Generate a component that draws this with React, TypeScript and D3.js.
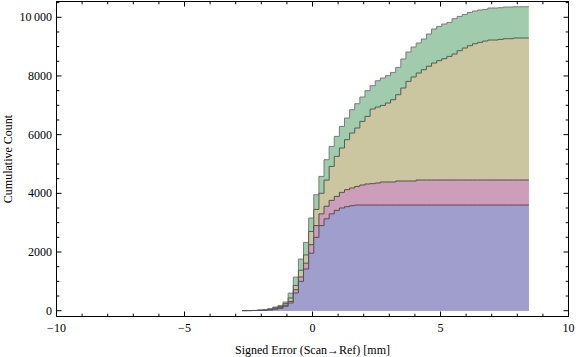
import React from "react";
import * as d3 from "d3";

// Bins of the cumulative histogram (signed error, mm)
const binStart = -2.75;
const binWidth = 0.2;

// Cumulative counts per series at each bin
const seriesGreen = [5,6,9,24,30,68,126,180,295,600,1145,1760,2328,3159,3953,4577,5146,5600,5940,6281,6567,6850,7055,7283,7498,7668,7838,7930,8009,8121,8292,8578,8816,8987,9123,9259,9430,9600,9689,9770,9825,9951,10030,10098,10166,10214,10248,10268,10316,10316,10327,10350,10350,10360,10360,10360];
const seriesKhaki = [4,5,7,14,20,50,100,140,240,433,860,1380,1900,2700,3450,4000,4450,4918,5259,5545,5828,6056,6226,6452,6622,6874,6942,6997,7078,7191,7361,7590,7815,7965,8101,8213,8330,8440,8520,8588,8667,8748,8861,8952,9031,9099,9144,9191,9225,9225,9246,9270,9270,9294,9294,9294];
const seriesPink = [3,4,6,10,15,32,65,100,185,317,716,1150,1620,2250,2900,3300,3560,3760,3895,4032,4124,4182,4236,4284,4318,4330,4352,4386,4386,4386,4420,4420,4420,4420,4454,4454,4454,4454,4454,4454,4454,4454,4454,4454,4454,4454,4454,4454,4454,4454,4454,4454,4454,4454,4454,4454];
const seriesBlue = [2,3,5,8,12,25,50,80,150,262,603,1000,1420,1960,2500,2900,3130,3300,3420,3500,3545,3578,3602,3602,3602,3602,3602,3602,3602,3602,3602,3602,3602,3602,3602,3602,3602,3602,3602,3602,3602,3602,3602,3602,3602,3602,3602,3602,3602,3602,3602,3602,3602,3602,3602,3602];

const xMajorTicks = [-10, -5, 0, 5, 10];
const xTickLabels = ["\u221210", "\u22125", "0", "5", "10"];
const yMajorTicks = [0, 2000, 4000, 6000, 8000, 10000];
const yTickLabels = ["0", "2000", "4000", "6000", "8000", "10\u2009000"];

const series = [
  { name: "green", values: seriesGreen, fill: "#a0cbac", stroke: "#747e76" },
  { name: "khaki", values: seriesKhaki, fill: "#cbc5a0", stroke: "#5c5a4c" },
  { name: "pink", values: seriesPink, fill: "#cd9eb9", stroke: "#5a4c56" },
  { name: "blue", values: seriesBlue, fill: "#a09ecd", stroke: "#4f4e62" },
];

const W = 576;
const H = 357;
const frame = { left: 56.5, right: 568.5, top: 1.5, bottom: 316.5 };
const font = "'Liberation Serif', 'Times New Roman', serif";

export default function App() {
  const x = d3.scaleLinear().domain([-10, 10]).range([frame.left, frame.right]);
  const y = d3.scaleLinear().domain([-198, 10538]).range([frame.bottom, frame.top]);

  const xMinor = d3.range(-10, 10.001, 1).filter((v) => !xMajorTicks.includes(v));
  const yMinor = d3.range(0, 10501, 500).filter((v) => !yMajorTicks.includes(v));

  const makePts = (vals: number[]) => {
    const pts: [number, number][] = vals.map((v, i) => [binStart + i * binWidth, v]);
    pts.push([binStart + vals.length * binWidth, vals[vals.length - 1]]);
    return pts;
  };
  const area = d3
    .area<[number, number]>()
    .x((d) => x(d[0]))
    .y0(y(0))
    .y1((d) => y(d[1]))
    .curve(d3.curveStepAfter);
  const line = d3
    .line<[number, number]>()
    .x((d) => x(d[0]))
    .y((d) => y(d[1]))
    .curve(d3.curveStepAfter);

  const majLen = 5;
  const minLen = 2.8;

  return (
    <div style={{ position: "absolute", left: 0, top: 0 }}>
      <svg width={W} height={H} style={{ display: "block", background: "#fff" }}>
        <g>
          {series.map((s) => {
            const pts = makePts(s.values);
            return (
              <g key={s.name}>
                <path d={area(pts) || ""} fill={s.fill} stroke="none" />
                <path d={line(pts) || ""} fill="none" stroke={s.stroke} strokeWidth={1} />
              </g>
            );
          })}
        </g>
        {/* frame */}
        <rect
          x={frame.left}
          y={frame.top}
          width={frame.right - frame.left}
          height={frame.bottom - frame.top}
          fill="none"
          stroke="#000"
          strokeWidth={1}
        />
        {/* x ticks */}
        {xMajorTicks.map((v) => (
          <g key={"xM" + v}>
            <line x1={x(v)} x2={x(v)} y1={frame.bottom} y2={frame.bottom - majLen} stroke="#000" />
            <line x1={x(v)} x2={x(v)} y1={frame.top} y2={frame.top + majLen} stroke="#000" />
          </g>
        ))}
        {xMinor.map((v) => (
          <g key={"xm" + v}>
            <line x1={x(v)} x2={x(v)} y1={frame.bottom} y2={frame.bottom - minLen} stroke="#000" />
            <line x1={x(v)} x2={x(v)} y1={frame.top} y2={frame.top + minLen} stroke="#000" />
          </g>
        ))}
        {/* y ticks */}
        {yMajorTicks.map((v) => (
          <g key={"yM" + v}>
            <line x1={frame.left} x2={frame.left + majLen} y1={y(v)} y2={y(v)} stroke="#000" />
            <line x1={frame.right} x2={frame.right - majLen} y1={y(v)} y2={y(v)} stroke="#000" />
          </g>
        ))}
        {yMinor.map((v) => (
          <g key={"ym" + v}>
            <line x1={frame.left} x2={frame.left + minLen} y1={y(v)} y2={y(v)} stroke="#000" />
            <line x1={frame.right} x2={frame.right - minLen} y1={y(v)} y2={y(v)} stroke="#000" />
          </g>
        ))}
        {/* tick labels */}
        {xMajorTicks.map((v, i) => (
          <text
            key={"xl" + v}
            x={x(v)}
            y={332}
            textAnchor="middle"
            fontFamily={font}
            fontSize={12}
            fill="#000"
          >
            {xTickLabels[i]}
          </text>
        ))}
        {yMajorTicks.map((v, i) => (
          <text
            key={"yl" + v}
            x={52}
            y={y(v) + 4}
            textAnchor="end"
            fontFamily={font}
            fontSize={12}
            fill="#000"
          >
            {yTickLabels[i]}
          </text>
        ))}
        {/* axis titles */}
        <text
          x={(frame.left + frame.right) / 2}
          y={354}
          textAnchor="middle"
          fontFamily={font}
          fontSize={12}
          fill="#000"
        >
          Signed Error (Scan{"\u2192"}Ref) [mm]
        </text>
        <text
          transform={`translate(11.5, ${(frame.top + frame.bottom) / 2}) rotate(-90)`}
          textAnchor="middle"
          fontFamily={font}
          fontSize={12}
          fill="#000"
        >
          Cumulative Count
        </text>
      </svg>
    </div>
  );
}
